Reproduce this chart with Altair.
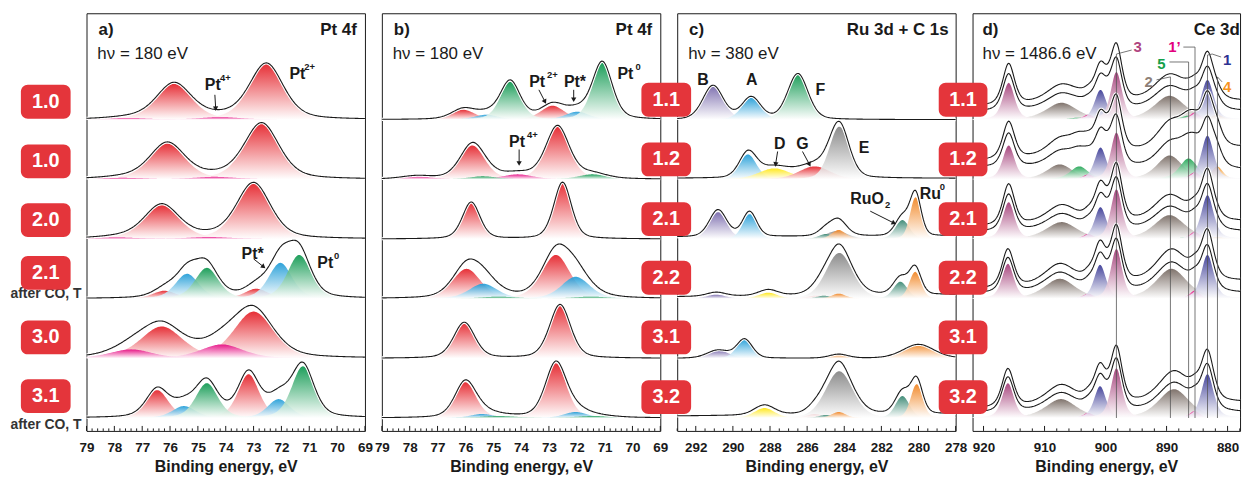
import math
import numpy as np
import pandas as pd
import altair as alt

alt.data_transformers.disable_max_rows()

FONT = "Liberation Sans"
INK = "#1a1a1a"
BOX_RED = "#e4353b"
H = 420
ROW_BASE = [313, 253, 193, 133, 73, 13]

FILL = {
    "red": "#e3141c", "pink": "#e5007e", "blue": "#1497d5", "green": "#009245",
    "purple": "#6f5fa6", "yellow": "#ffe500", "grey": "#7d7d7d", "teal": "#2b7f68",
    "orange": "#f07d14", "mauve": "#9c2f6e", "indigo": "#2e2e8f", "brown": "#6e6058",
    "lime": "#14a04a", "magenta": "#e0007a", "amber": "#f39019",
}

# ---------------- panel a : Pt 4f ----------------
A_DOMAIN = [79, 69]
A_TICKS = list(range(79, 68, -1))
A_NAMES = ["1.0", "1.0", "2.0", "2.1", "3.0", "3.1"]
A_BOX_Y = [331, 271, 212, 159, 94, 35]
A_PEAKS = [
    [("red", 72.54, 56, 1.45), ("red", 75.86, 36, 1.5), ("pink", 74.2, 2.5, 1.8), ("pink", 77.5, 1.5, 1.8)],
    [("red", 72.71, 56, 1.5), ("red", 76.1, 36, 1.5), ("pink", 74.4, 2.5, 1.8), ("pink", 77.7, 1.5, 1.8)],
    [("red", 73.0, 56, 1.45), ("red", 76.3, 34, 1.5), ("pink", 74.6, 2, 1.8), ("pink", 77.9, 1.5, 1.8)],
    [("green", 71.36, 44, 1.0), ("blue", 72.04, 36, 1.0), ("red", 72.9, 10, 1.0),
     ("green", 74.68, 31, 1.0), ("blue", 75.39, 25, 1.0), ("red", 76.2, 8, 1.0)],
    [("red", 73.0, 47, 1.7), ("red", 76.3, 32, 1.8), ("pink", 74.14, 14, 1.8), ("pink", 77.4, 9, 1.8)],
    [("green", 71.23, 52, 0.95), ("blue", 72.1, 19, 0.95), ("red", 73.18, 44, 0.9),
     ("green", 74.68, 35, 0.95), ("blue", 75.5, 12, 1.0), ("red", 76.46, 28, 0.95)],
]
A_TEXT = [
    (78.57, 403, "a)", 17, "bold", "left", INK), (69.29, 403, "Pt 4f", 17, "bold", "right", INK),
    (78.61, 379, "hν = 180 eV", 17, "normal", "left", INK),
    (74.75, 348, "Pt", 16, "bold", "left", INK), (74.21, 355, "4+", 9.5, "bold", "left", INK),
    (71.71, 359, "Pt", 16, "bold", "left", INK), (71.18, 366, "2+", 9.5, "bold", "left", INK),
    (73.43, 178, "Pt*", 16, "bold", "left", INK),
    (70.71, 169, "Pt", 16, "bold", "left", INK), (70.11, 176, "0", 9.5, "bold", "left", INK),
]
A_ARROWS = [(74.39, 338, 74.36, 324), (73.0, 173, 72.64, 165)]
A_NOTES_Y = [138, 6]

# ---------------- panel b : Pt 4f ----------------
B_DOMAIN = [79, 69]
B_TICKS = list(range(79, 68, -1))
B_PEAKS = [
    [("green", 71.08, 57, 0.85), ("green", 74.39, 38, 0.85), ("red", 72.87, 14, 1.0),
     ("blue", 71.98, 8, 1.0), ("red", 76.08, 10, 1.0), ("blue", 75.25, 5, 1.0)],
    [("red", 72.69, 53, 1.0), ("red", 75.75, 34, 1.05), ("pink", 74.12, 5, 1.3),
     ("pink", 77.75, 3, 1.3), ("green", 71.44, 5, 1.2), ("green", 75.37, 3, 1.2)],
    [("red", 72.51, 57, 0.75), ("red", 75.79, 37, 0.75)],
    [("red", 72.75, 44, 1.2), ("blue", 72.04, 22, 1.2), ("red", 75.96, 30, 1.2),
     ("blue", 75.36, 15, 1.2), ("green", 71.5, 2, 1.5), ("green", 74.8, 2, 1.5)],
    [("red", 72.6, 54, 0.9), ("red", 76.04, 36, 0.9)],
    [("red", 72.75, 55, 0.9), ("red", 76.0, 36, 0.9), ("blue", 72.04, 6, 1.0),
     ("blue", 75.4, 4, 1.0), ("green", 71.4, 2, 1.5), ("green", 74.8, 2, 1.5)],
]
B_TEXT = [
    (78.57, 403, "b)", 17, "bold", "left", INK), (69.29, 403, "Pt 4f", 17, "bold", "right", INK),
    (78.61, 379, "hν = 180 eV", 17, "normal", "left", INK),
    (73.71, 351, "Pt", 16, "bold", "left", INK), (73.07, 358, "2+", 9.5, "bold", "left", INK),
    (72.46, 351, "Pt*", 16, "bold", "left", INK),
    (70.54, 359, "Pt", 16, "bold", "left", INK), (69.89, 366, "0", 9.5, "bold", "left", INK),
    (74.43, 291, "Pt", 16, "bold", "left", INK), (73.79, 298, "4+", 9.5, "bold", "left", INK),
]
B_ARROWS = [(73.36, 343, 73.14, 331), (72.11, 343, 72.11, 333), (74.07, 283, 74.07, 269)]

# ---------------- panel c : Ru 3d + C 1s ----------------
C_DOMAIN = [293, 278]
C_TICKS = list(range(292, 277, -2))
C_NAMES = ["1.1", "1.2", "2.1", "2.2", "3.1", "3.2"]
C_BOX_Y = [333, 273, 213, 154, 94, 34]
C_PEAKS = [
    [("purple", 291.07, 34, 1.3), ("blue", 289.01, 22, 1.2), ("green", 286.5, 46, 1.3)],
    [("grey", 284.27, 53, 1.25), ("blue", 289.19, 25, 1.1), ("yellow", 287.76, 11, 2.0), ("red", 285.6, 13, 2.0)],
    [("purple", 290.8, 27, 1.1), ("blue", 289.1, 25, 0.9), ("grey", 284.4, 8, 1.4), ("orange", 280.16, 42, 0.7),
     ("teal", 280.87, 19, 0.9), ("orange", 284.3, 9, 0.9), ("teal", 285.0, 5, 0.9)],
    [("grey", 284.27, 46, 1.7), ("teal", 280.98, 17, 0.9), ("orange", 280.18, 27, 0.75), ("purple", 290.9, 4, 1.2),
     ("yellow", 288.1, 6, 1.2), ("red", 285.5, 3, 1.2), ("teal", 285.1, 3, 0.9), ("orange", 284.3, 5, 0.9)],
    [("purple", 290.8, 8, 1.4), ("blue", 289.37, 19, 1.0), ("orange", 284.3, 4, 1.2), ("orange", 280.0, 14, 2.0)],
    [("grey", 284.27, 47, 1.75), ("yellow", 288.3, 10, 1.3), ("teal", 280.87, 22, 0.9), ("orange", 280.1, 34, 0.75),
     ("red", 285.6, 4, 1.0), ("teal", 285.0, 3, 0.9), ("orange", 284.3, 6, 0.9)],
]
C_BG = [(0, 0), (1, 1), (2, 3), (2, 4), (0, 0), (2, 4)]
C_TEXT = [
    (292.36, 403, "c)", 17, "bold", "left", INK), (278.375, 403, "Ru 3d + C 1s", 17, "bold", "right", INK),
    (292.41, 379, "hν = 380 eV", 17, "normal", "left", INK),
    (291.61, 353, "B", 16, "bold", "center", INK), (288.98, 353, "A", 16, "bold", "center", INK),
    (285.29, 343, "F", 16, "bold", "center", INK), (287.48, 289, "D", 16, "bold", "center", INK),
    (286.25, 289, "G", 16, "bold", "center", INK), (282.93, 284, "E", 16, "bold", "center", INK),
    (283.68, 233, "RuO", 16, "bold", "left", INK), (281.8, 227, "2", 9.5, "bold", "left", INK),
    (279.93, 238, "Ru", 16, "bold", "left", INK), (278.86, 245, "0", 9.5, "bold", "left", INK),
]
C_ARROWS = [(287.59, 281, 287.70, 268), (286.25, 281, 285.875, 268), (282.6, 221, 281.32, 209)]

# ---------------- panel d : Ce 3d ----------------
D_DOMAIN = [921.8, 877.96]
D_TICKS = [920, 910, 900, 890, 880]
D_PEAKS = [
    [("brown", 889.5, 24, 6.0), ("brown", 907.2, 17, 6.0), ("lime", 886.4, 4, 3.0), ("lime", 904.5, 2, 3.0),
     ("magenta", 885.4, 7, 2.0), ("magenta", 902.85, 5, 2.0), ("amber", 881.7, 5, 2.2), ("amber", 899.3, 3, 2.2),
     ("indigo", 883.3, 40, 2.4), ("indigo", 900.83, 30, 2.3), ("mauve", 898.22, 48, 2.2), ("mauve", 915.88, 37, 2.3)],
    [("brown", 889.5, 24, 5.0), ("brown", 907.5, 15, 5.0), ("lime", 886.4, 21, 3.5), ("lime", 904.3, 13, 3.5),
     ("magenta", 885.4, 7, 2.0), ("magenta", 902.85, 5, 2.0), ("amber", 881.7, 13, 2.2), ("amber", 899.3, 5, 2.2),
     ("indigo", 883.3, 44, 2.4), ("indigo", 900.83, 32, 2.3), ("mauve", 898.22, 47, 2.2), ("mauve", 915.88, 34, 2.3)],
    [("brown", 889.5, 24, 6.0), ("brown", 907.2, 17, 6.0), ("lime", 886.4, 2, 3.0), ("magenta", 885.4, 7, 2.0),
     ("magenta", 902.85, 5, 2.0), ("amber", 881.7, 2, 2.2), ("indigo", 883.3, 44, 2.4), ("indigo", 900.83, 32, 2.3),
     ("mauve", 898.22, 50, 2.2), ("mauve", 915.88, 37, 2.3)],
    [("brown", 889.2, 30, 6.0), ("brown", 907.5, 20, 6.0), ("magenta", 885.4, 8, 2.0), ("magenta", 902.85, 5, 2.0),
     ("indigo", 883.3, 44, 2.4), ("indigo", 900.9, 34, 2.3), ("mauve", 898.22, 50, 2.2), ("mauve", 916.0, 35, 2.3)],
    [],
    [("brown", 888.8, 29, 6.0), ("brown", 907.3, 19, 6.0), ("magenta", 885.4, 7, 2.0), ("magenta", 902.85, 5, 2.0),
     ("indigo", 883.3, 44, 2.4), ("indigo", 900.9, 32, 2.3), ("mauve", 898.22, 50, 2.2), ("mauve", 916.0, 35, 2.3)],
]
D_BG = [(8, 8), (12, 9), (7, 7), (5, 5), (0, 0), (5, 5)]
D_UPPER = [(5, 10, 0.12), (6, 22, 0.1), (5, 10, 0.12), (4, 12, 0.1), (0, 0, 0), (4, 10, 0.1)]
D_LINES_X = [898.22, 889.37, 886.39, 885.34, 883.29, 881.66]
D_LINES_TOP = [379, 356, 371, 386, 378, 356]
D_LEADERS = [(898.22, 379, 895.72, 383), (889.37, 356, 891.65, 353), (886.39, 371, 889.53, 371),
             (885.34, 386, 887.25, 386), (883.29, 378, 882.52, 379), (882.52, 379, 881.06, 376),
             (881.66, 356, 880.9, 351)]
D_TEXT = [
    (920.17, 403, "d)", 17, "bold", "left", INK), (878.0, 403, "Ce 3d", 17, "bold", "right", INK),
    (920.17, 379, "hν = 1486.6 eV", 17, "normal", "left", INK),
    (894.75, 386, "3", 15, "bold", "center", "#b0447f"), (888.72, 386, "1’", 15, "bold", "center", "#e3007d"),
    (890.84, 369, "5", 15, "bold", "center", "#14a04a"), (892.95, 351, "2", 15, "bold", "center", "#8e7f77"),
    (880.08, 373, "1", 15, "bold", "center", "#2e3192"), (880.08, 346, "4", 15, "bold", "center", "#f7941d"),
]


def pv(x, c, h, w, eta):
    t = ((x - c) / (w / 2.0)) ** 2
    return h * (eta / (1 + t) + (1 - eta) * np.exp(-np.log(2) * t))


def build(domain, peaks, eta, bgs=None, uppers=None, npts=320):
    lo, hi = min(domain), max(domain)
    xs = np.linspace(lo, hi, npts)
    frac = (xs - lo) / (hi - lo)
    comps, lines = [], []
    for r, plist in enumerate(peaks):
        if not plist:
            continue
        base = ROW_BASE[r]
        total = np.zeros_like(xs)
        for k, (col, c, h, w) in enumerate(plist):
            v = pv(xs, c, h, w, eta)
            total += v
            keep = v > 0.2
            for xv, vv in zip(xs[keep], v[keep]):
                comps.append({"x": round(float(xv), 3), "y": round(base + float(vv), 2),
                              "y0": base, "id": f"{r}-{k}", "col": col})
        bl, br = bgs[r] if bgs else (0, 0)
        lower = base + total + br + (bl - br) * frac
        curves = [lower]
        if uppers:
            ol, orr, sc = uppers[r]
            curves.append(lower + orr + (ol - orr) * frac + sc * total)
        for j, cv in enumerate(curves):
            for xv, yv in zip(xs, cv):
                lines.append({"x": round(float(xv), 3), "y": round(float(yv), 2), "id": f"{r}-{j}"})
    return pd.DataFrame(comps), pd.DataFrame(lines)


def grad(c):
    return alt.Gradient(gradient="linear", x1=0, x2=0, y1=0, y2=1,
                        stops=[alt.GradientStop(color=c, offset=0),
                               alt.GradientStop(color="#ffffff", offset=1)])


def panel(domain, width, ticks, minor, peaks, eta, order, texts, arrows,
          names, box_y, box_x0, box_x1, bgs=None, uppers=None, rules=None,
          notes_y=None, anchor=False):
    XS = alt.Scale(domain=domain, nice=False, zero=False)
    YS = alt.Scale(domain=[0, H], nice=False, zero=False)
    XAX = alt.Axis(values=ticks, format="d", labelFont=FONT, labelFontSize=13.5,
                   labelFontWeight="bold", labelColor=INK, labelPadding=10, labelFlush=False,
                   labelOverlap=False, ticks=False, tickSize=0, domain=False, grid=False,
                   title="Binding energy, eV", titleFont=FONT, titleFontSize=16,
                   titleFontWeight="bold", titleColor=INK, titlePadding=4)

    def X(f="x"):
        return alt.X(f"{f}:Q", scale=XS, axis=XAX)

    def Y(f="y"):
        return alt.Y(f"{f}:Q", scale=YS, axis=None)

    layers = []
    # axis ticks (inside)
    lo, hi = min(domain), max(domain)
    tk = []
    n0 = math.ceil(lo / minor - 1e-6)
    n1 = math.floor(hi / minor + 1e-6)
    for n in range(n0, n1 + 1):
        v = round(n * minor, 4)
        major = any(abs(v - t) < 1e-6 for t in ticks)
        tk.append({"x": v, "t0": 0, "t1": 5 if major else 2.5})
    layers.append(alt.Chart(pd.DataFrame(tk)).mark_rule(color=INK, strokeWidth=1)
                  .encode(x=X(), y=Y("t0"), y2="t1:Q"))

    comps, lines = build(domain, peaks, eta, bgs, uppers)
    for col in order:
        sub = comps[comps["col"] == col]
        if len(sub) == 0:
            continue
        layers.append(alt.Chart(sub).mark_area(color=grad(FILL[col]), opacity=0.88)
                      .encode(x=X(), y=Y(), y2="y0:Q", detail="id:N"))
    layers.append(alt.Chart(lines).mark_line(color="white", strokeWidth=3.2)
                  .encode(x=X(), y=Y(), detail="id:N"))
    layers.append(alt.Chart(lines).mark_line(color=INK, strokeWidth=1.1)
                  .encode(x=X(), y=Y(), detail="id:N"))

    if rules is not None:
        layers.append(alt.Chart(rules).mark_rule(color="#555555", strokeWidth=0.8)
                      .encode(x=X("x"), x2="x2:Q", y=Y("y"), y2="y2:Q"))

    if arrows:
        ppe = width / abs(domain[0] - domain[1])
        ar = []
        for (x1, y1, x2, y2) in arrows:
            dx = -(x2 - x1) * ppe
            dy = -(y2 - y1)
            ang = math.degrees(math.atan2(dx, -dy)) % 360
            ar.append({"x": x1, "y": y1, "x2": x2, "y2": y2, "ang": ang})
        ard = pd.DataFrame(ar)
        layers.append(alt.Chart(ard).mark_rule(color=INK, strokeWidth=1)
                      .encode(x=X("x"), x2="x2:Q", y=Y("y"), y2="y2:Q"))
        layers.append(alt.Chart(ard).mark_point(shape="triangle-up", filled=True, size=28,
                                                color=INK, opacity=1)
                      .encode(x=X("x2"), y=Y("y2"), angle=alt.Angle("ang:Q", scale=None)))

    tdf = pd.DataFrame(texts, columns=["x", "y", "text", "size", "weight", "align", "color"])
    for (al, wt), sub in tdf.groupby(["align", "weight"]):
        layers.append(alt.Chart(sub).mark_text(align=al, baseline="middle", font=FONT, fontWeight=wt)
                      .encode(x=X(), y=Y(), text="text:N",
                              size=alt.Size("size:Q", scale=None, legend=None),
                              color=alt.Color("color:N", scale=None, legend=None)))

    if notes_y:
        nd = pd.DataFrame({"y": notes_y, "t": ["after CO, T"] * len(notes_y)})
        layers.append(alt.Chart(nd).mark_text(align="right", baseline="middle", font=FONT,
                                              fontWeight="bold", fontSize=14, color="#333333")
                      .encode(x=alt.value(-5), y=Y(), text="t:N"))

    bd = pd.DataFrame({"label": names, "yc": box_y})
    bd["y1"] = bd["yc"] - 17
    bd["y2"] = bd["yc"] + 17
    layers.append(alt.Chart(bd).mark_rect(color=BOX_RED, cornerRadius=7)
                  .encode(x=alt.value(box_x0), x2=alt.value(box_x1), y=Y("y1"), y2="y2:Q"))
    layers.append(alt.Chart(bd).mark_text(color="white", font=FONT, fontSize=20, fontWeight="bold",
                                          align="center", baseline="middle")
                  .encode(x=alt.value((box_x0 + box_x1) / 2.0), y=Y("yc"), text="label:N"))

    if anchor:
        layers.append(alt.Chart(pd.DataFrame({"a": [0]})).mark_rect(color="white")
                      .encode(x=alt.value(-86), x2=alt.value(-85), y=alt.value(-11), y2=alt.value(-10)))

    return alt.layer(*layers).properties(width=width, height=H)


pa = panel(A_DOMAIN, 280, A_TICKS, 0.2, A_PEAKS, 0.4, ["red", "pink", "blue", "green"],
           A_TEXT, A_ARROWS, A_NAMES, A_BOX_Y, -66, -16, notes_y=A_NOTES_Y, anchor=True)
pb = panel(B_DOMAIN, 280, B_TICKS, 0.2, B_PEAKS, 0.35, ["red", "pink", "blue", "green"],
           B_TEXT, B_ARROWS, [], [], 0, 0)
pc = panel(C_DOMAIN, 280, C_TICKS, 0.5, C_PEAKS, 0.25,
           ["purple", "blue", "green", "yellow", "red", "grey", "teal", "orange"],
           C_TEXT, C_ARROWS, C_NAMES, C_BOX_Y, -36, 14, bgs=C_BG)

d_rules = pd.DataFrame(
    [{"x": x, "x2": x, "y": 13, "y2": t} for x, t in zip(D_LINES_X, D_LINES_TOP)] +
    [{"x": a, "y": b, "x2": c, "y2": d} for (a, b, c, d) in D_LEADERS])
pdd = panel(D_DOMAIN, 269, D_TICKS, 2, D_PEAKS, 0.5,
            ["brown", "lime", "magenta", "amber", "indigo", "mauve"],
            D_TEXT, [], C_NAMES, C_BOX_Y, -34, 15, bgs=D_BG, uppers=D_UPPER, rules=d_rules)

chart = (alt.hconcat(pa, pb, pc, pdd, spacing=17, bounds="flush")
         .properties(padding=0, background="white")
         .configure_view(stroke=INK, strokeWidth=1))

chart.save("out.html", embed_options={"renderer": "svg", "actions": False})
